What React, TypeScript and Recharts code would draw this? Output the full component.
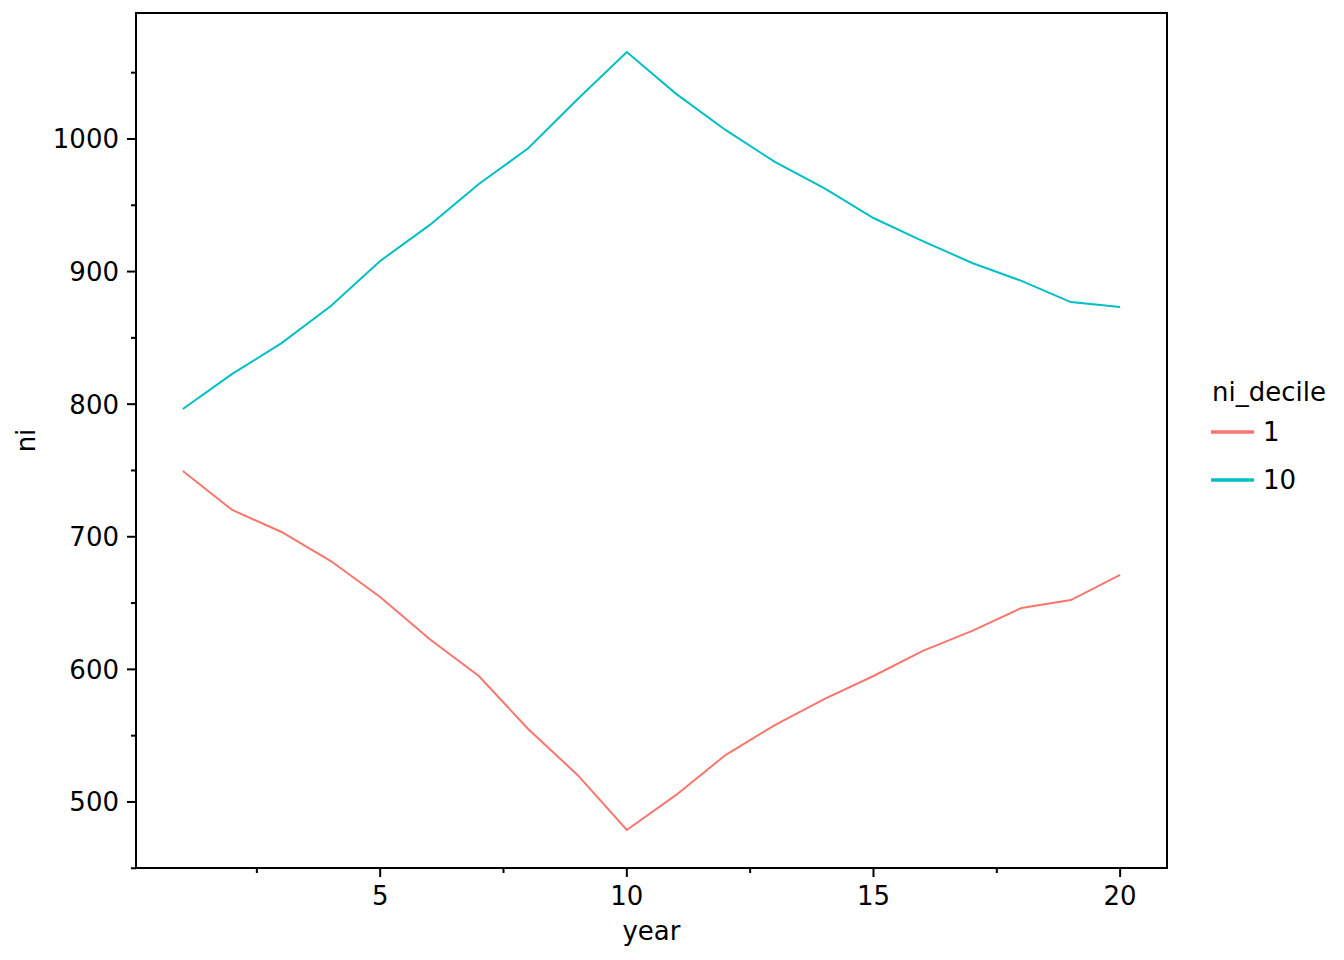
import React from 'react'
import {
  LineChart,
  Line,
  XAxis,
  YAxis,
  Legend,
  ReferenceArea,
} from 'recharts'

// values (ni by year, top and bottom decile)
const years = [1, 2, 3, 4, 5, 6, 7, 8, 9, 10, 11, 12, 13, 14, 15, 16, 17, 18, 19, 20]
const decile1 = [
  749.6, 720.2, 703.6, 681.7, 654.6, 622.9, 595.0, 555.0, 520.4, 478.9,
  505.3, 535.4, 558.0, 577.6, 595.0, 613.9, 629.0, 646.3, 652.3, 671.2,
]
const decile10 = [
  796.4, 822.8, 846.0, 874.0, 908.0, 935.0, 966.0, 993.0, 1030.0, 1065.6,
  1034.0, 1006.8, 982.7, 963.0, 940.4, 923.0, 906.5, 893.0, 877.0, 873.3,
]
const xMajor = [5, 10, 15, 20]
const xMinor = [2.5, 7.5, 12.5, 17.5]
const yMajor = [500, 600, 700, 800, 900, 1000]
const yMinor = [450, 550, 650, 750, 850, 950, 1050]

const data = years.map((year, i) => ({ year, d1: decile1[i], d10: decile10[i] }))

const X_DOMAIN: [number, number] = [0.05, 20.95]
const Y_DOMAIN: [number, number] = [450.2, 1095]

const FONT = '"DejaVu Sans", sans-serif'
const RED = '#F8766D'
const CYAN = '#00BFC4'

function XTick(props: any) {
  const { x, y, payload } = props
  const major = xMajor.includes(payload.value)
  return (
    <g>
      <line x1={x} x2={x} y1={y} y2={y + (major ? 9 : 5)} stroke="#000" strokeWidth={2} />
      {major && (
        <text x={x} y={905} textAnchor="middle" fontSize={26} fontFamily={FONT} fill="#000">
          {payload.value}
        </text>
      )}
    </g>
  )
}

function YTick(props: any) {
  const { x, y, payload } = props
  const major = yMajor.includes(payload.value)
  return (
    <g>
      <line x1={x} x2={x - (major ? 9 : 5)} y1={y} y2={y} stroke="#000" strokeWidth={2} />
      {major && (
        <text x={x - 17} y={y} dy="0.36em" textAnchor="end" fontSize={26} fontFamily={FONT} fill="#000">
          {payload.value}
        </text>
      )}
    </g>
  )
}

function YTitle(props: any) {
  const vb = props.viewBox || { x: 0, y: 13, width: 136, height: 855 }
  const cx = vb.x + 35
  const cy = vb.y + vb.height / 2
  return (
    <text
      x={cx}
      y={cy}
      transform={`rotate(-90 ${cx} ${cy})`}
      textAnchor="middle"
      fontSize={26}
      fontFamily={FONT}
      fill="#000"
    >
      ni
    </text>
  )
}

function LegendBox(props: any) {
  const items = props.payload || []
  return (
    <svg width={140} height={130} style={{ display: 'block' }}>
      <text x={12} y={31} fontSize={26} fontFamily={FONT} fill="#000">
        ni_decile
      </text>
      {items.map((it: any, i: number) => (
        <g key={it.value}>
          <line x1={11} x2={54} y1={62 + i * 48} y2={62 + i * 48} stroke={it.color} strokeWidth={3.5} />
          <text x={63} y={71 + i * 48} fontSize={26} fontFamily={FONT} fill="#000">
            {it.value}
          </text>
        </g>
      ))}
    </svg>
  )
}

export default function App() {
  return (
    <div style={{ position: 'absolute', left: 0, top: 0, width: 1344, height: 960, background: '#fff' }}>
      <LineChart
        width={1344}
        height={960}
        data={data}
        margin={{ top: 13, right: 177, bottom: 0, left: 0 }}
      >
        <ReferenceArea
          x1={X_DOMAIN[0]}
          x2={X_DOMAIN[1]}
          y1={Y_DOMAIN[0]}
          y2={Y_DOMAIN[1]}
          fill="none"
          stroke="#000"
          strokeWidth={2}
          ifOverflow="visible"
        />
        <XAxis
          type="number"
          dataKey="year"
          domain={X_DOMAIN}
          ticks={[...xMinor, ...xMajor].sort((a, b) => a - b)}
          allowDataOverflow
          height={92}
          tickSize={0}
          tickMargin={0}
          tickLine={false}
          axisLine={{ stroke: '#000', strokeWidth: 2 }}
          tick={<XTick />}
          interval={0}
          label={{ value: 'year', position: 'insideBottom', offset: 20, fontSize: 26, fontFamily: FONT, fill: '#000' }}
        />
        <YAxis
          type="number"
          domain={Y_DOMAIN}
          ticks={[...yMinor, ...yMajor].sort((a, b) => a - b)}
          allowDataOverflow
          width={136}
          tickSize={0}
          tickMargin={0}
          tickLine={false}
          axisLine={{ stroke: '#000', strokeWidth: 2 }}
          tick={<YTick />}
          interval={0}
          label={<YTitle />}
        />
        <Legend
          layout="horizontal"
          verticalAlign="middle"
          align="center"
          content={<LegendBox />}
          wrapperStyle={{ left: 1200, top: 370, width: 140, height: 130 }}
        />
        <Line
          name="1"
          dataKey="d1"
          stroke={RED}
          strokeWidth={2}
          dot={false}
          isAnimationActive={false}
        />
        <Line
          name="10"
          dataKey="d10"
          stroke={CYAN}
          strokeWidth={2}
          dot={false}
          isAnimationActive={false}
        />
      </LineChart>
    </div>
  )
}
